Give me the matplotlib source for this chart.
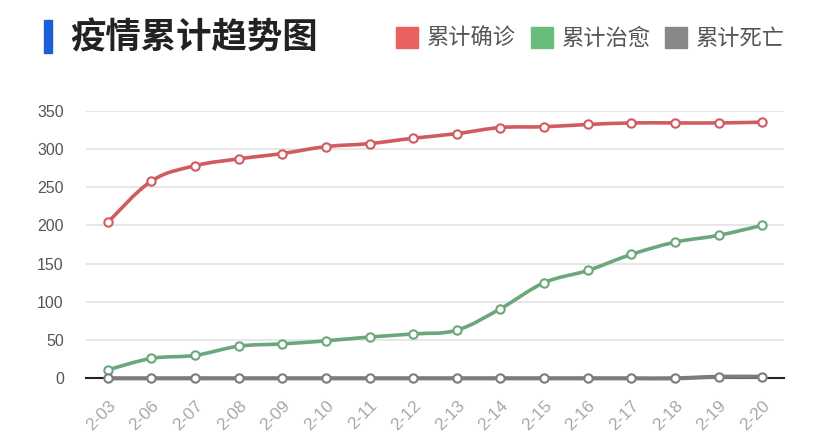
import matplotlib
matplotlib.use('Agg')
import matplotlib.pyplot as plt
from matplotlib.path import Path
from matplotlib.patches import PathPatch, Rectangle
import numpy as np

plt.rcParams['font.family'] = ['Noto Sans CJK SC', 'DejaVu Sans']

dates = ['2-03', '2-06', '2-07', '2-08', '2-09', '2-10', '2-11', '2-12',
         '2-13', '2-14', '2-15', '2-16', '2-17', '2-18', '2-19', '2-20']
confirmed = [204, 258, 278, 287, 294, 303, 307, 314, 320, 328, 329, 332, 334, 334, 334, 335]
cured = [11, 26, 30, 42, 45, 49, 54, 58, 63, 91, 125, 141, 162, 178, 187, 200]
deaths = [0, 0, 0, 0, 0, 0, 0, 0, 0, 0, 0, 0, 0, 0, 2, 2]

names = ['累计确诊', '累计治愈', '累计死亡']
line_colors = ['#d25b5f', '#6aa87b', '#7c7c7c']
legend_colors = ['#e9605f', '#68bd7b', '#878787']


def smooth_path(xs, ys, s=0.18):
    # bezier segments through the points (drawing only, data unchanged)
    pts = np.column_stack([xs, ys]).astype(float)
    n = len(pts)
    verts = [pts[0]]
    codes = [Path.MOVETO]
    for i in range(n - 1):
        p0 = pts[max(i - 1, 0)]
        p1 = pts[i]
        p2 = pts[i + 1]
        p3 = pts[min(i + 2, n - 1)]
        c1 = p1 + (p2 - p0) * s
        c2 = p2 - (p3 - p1) * s
        verts += [c1, c2, p2]
        codes += [Path.CURVE4] * 3
    return Path(verts, codes)


fig = plt.figure(figsize=(8.2, 4.4), dpi=100)
fig.patch.set_facecolor('white')
ax = fig.add_axes([86 / 820, (440 - 378.3) / 440, (784 - 86) / 820, (378.3 - 110.7) / 440])

x = np.arange(len(dates))
ax.set_xlim(-0.5, len(dates) - 0.5)
ax.set_ylim(0, 350)
ax.set_yticks(range(0, 351, 50))
ax.yaxis.grid(True, color='#e3e3e3', linewidth=1.2)
ax.set_axisbelow(True)
for sp in ['top', 'right', 'left']:
    ax.spines[sp].set_visible(False)
ax.spines['bottom'].set_color('#222222')
ax.spines['bottom'].set_linewidth(1.5)
ax.tick_params(axis='y', length=0, pad=16, labelsize=11.5, labelcolor='#555555')
ax.tick_params(axis='x', length=0, pad=14)
ax.set_xticks(x)
ax.set_xticklabels(dates, rotation=45, ha='right', va='top', rotation_mode='anchor',
                   fontsize=12.5, color='#a8a8a8')
for lab in ax.get_yticklabels() + ax.get_xticklabels():
    lab.set_family(['Liberation Sans'])

for vals, c in zip([confirmed, cured, deaths], line_colors):
    lw = 3.0 if c == line_colors[2] else 2.6
    patch = PathPatch(smooth_path(x, vals), facecolor='none', edgecolor=c,
                      linewidth=lw, clip_on=False, zorder=3)
    ax.add_patch(patch)
    ax.plot(x, vals, 'o', markersize=6, markerfacecolor='white', markeredgecolor=c,
            markeredgewidth=1.5, clip_on=False, zorder=4)

# title
fig.patches.append(Rectangle((44 / 820, 1 - 53 / 440), 8 / 820, 33 / 440,
                             transform=fig.transFigure, color='#1a5fd8'))
fig.text(70 / 820, 1 - 38 / 440, '疫情累计趋势图', fontsize=25.5, fontweight='bold',
         color='#222222', va='center', ha='left')

# legend
lx = [396, 531, 665]
for px, name, c in zip(lx, names, legend_colors):
    fig.patches.append(Rectangle((px / 820, 1 - 48 / 440), 22 / 820, 21 / 440,
                                 transform=fig.transFigure, color=c))
    fig.text((px + 31) / 820, 1 - 38 / 440, name, fontsize=16, color='#555555',
             va='center', ha='left')

fig.savefig('out.png', dpi=100, facecolor='white')
